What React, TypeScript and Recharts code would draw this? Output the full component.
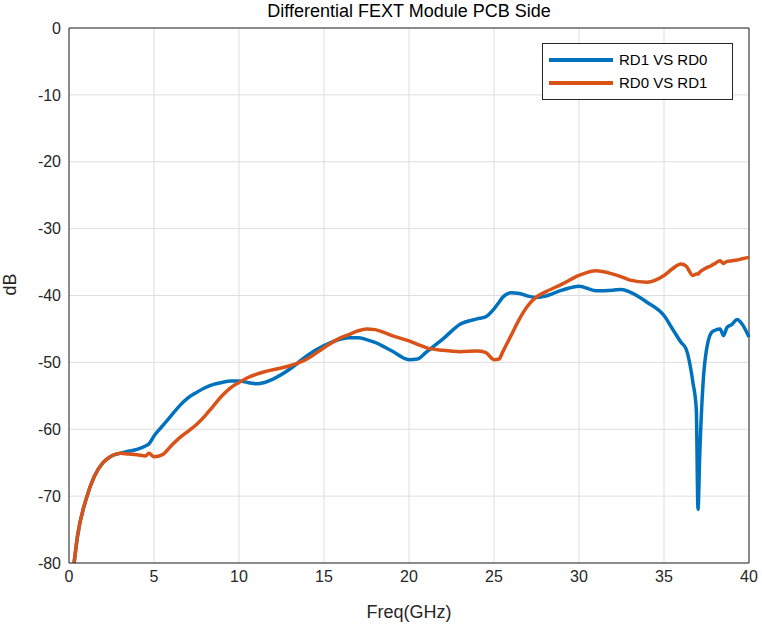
import {
  CartesianGrid,
  Line,
  LineChart,
  ReferenceLine,
  XAxis,
  YAxis,
} from 'recharts';

const freq = [
  0.3, 0.5, 1, 1.5, 2, 2.5, 3, 3.5, 4, 4.5, 4.7, 5, 5.5, 6, 6.5, 7, 7.5, 8, 8.5, 9, 9.5, 10,
  10.5, 11, 11.5, 12, 13, 14, 15, 16, 16.5, 17, 17.5, 18, 19, 20, 20.5, 21, 22, 23, 24, 24.5,
  25, 25.3, 25.5, 26, 26.5, 27, 27.5, 28, 29, 30, 31, 32, 32.5, 33, 34, 35, 35.5, 36, 36.3,
  36.7, 36.9, 37, 37.1, 37.4, 37.8, 38, 38.3, 38.5, 38.7, 39, 39.3, 39.6, 40,
];
const rd1VsRd0 = [
  -80, -76, -70.5, -67, -65, -64, -63.6, -63.3, -63, -62.5, -62.2, -61, -59.5, -58, -56.5,
  -55.3, -54.5, -53.8, -53.3, -53, -52.8, -52.8, -53, -53.2, -53, -52.5, -51, -49, -47.5,
  -46.5, -46.3, -46.3, -46.6, -47, -48.3, -49.6, -49.5, -48.5, -46.5, -44.3, -43.5, -43.2,
  -42, -41, -40.3, -39.6, -39.7, -40.1, -40.3, -40.1, -39.2, -38.6, -39.3, -39.2, -39.1,
  -39.5, -41, -43, -45, -47, -48, -53, -57, -72, -64, -50, -45.5, -45.2, -45, -46, -44.8,
  -44.3, -43.6, -44.3, -46.2,
];
const rd0VsRd1 = [
  -80, -76, -70.5, -67, -65, -64, -63.6, -63.7, -63.8, -64, -63.6, -64.1, -63.8, -62.5,
  -61.3, -60.3, -59.3, -58, -56.5, -55, -53.8, -53, -52.3, -51.8, -51.4, -51.1, -50.5,
  -49.5, -47.8, -46.3, -45.8, -45.3, -45, -45.1, -46, -46.8, -47.3, -47.8, -48.2, -48.4,
  -48.3, -48.5, -49.6, -49.5, -48.5, -46, -43.5, -41.5, -40.2, -39.5, -38.3, -37, -36.3,
  -36.8, -37.2, -37.7, -38, -37, -36, -35.3, -35.6, -37, -36.8, -36.8, -36.5, -36, -35.5,
  -35.2, -34.8, -35.2, -34.9, -34.8, -34.7, -34.5, -34.3,
];
const xTicks = [0, 5, 10, 15, 20, 25, 30, 35, 40];
const yTicks = [-80, -70, -60, -50, -40, -30, -20, -10, 0];

const data = freq.map((f, i) => ({ f, a: rd1VsRd0[i], b: rd0VsRd1[i] }));

const series = [
  { key: 'a', label: 'RD1 VS RD0', color: '#0072bd' },
  { key: 'b', label: 'RD0 VS RD1', color: '#d95319' },
];

const font = '"Liberation Sans", Arial, sans-serif';
const tick = { fill: '#262626', fontSize: 16, fontFamily: font };

function LegendBox() {
  return (
    <div
      style={{
        position: 'absolute',
        top: 43,
        left: 542,
        border: '1px solid #262626',
        background: '#fff',
        width: 191,
        height: 57,
        boxSizing: 'border-box',
        padding: '4px 0 0 6px',
        fontFamily: font,
        fontSize: 15,
        color: '#000',
        zIndex: 2,
      }}
    >
      {series.map((s) => (
        <div key={s.key} style={{ display: 'flex', alignItems: 'center', height: 23 }}>
          <span style={{ width: 64, height: 4, background: s.color, marginRight: 6 }} />
          {s.label}
        </div>
      ))}
    </div>
  );
}

export default function App() {
  return (
    <div style={{ position: 'absolute', left: 0, top: 0, width: 762, height: 630, background: '#fff' }}>
      <div
        style={{
          position: 'absolute',
          top: 1,
          left: 69,
          width: 680,
          textAlign: 'center',
          fontFamily: font,
          fontSize: 18,
          color: '#000',
        }}
      >
        Differential FEXT Module PCB Side
      </div>
      <LegendBox />
      <LineChart width={762} height={630} data={data} margin={{ top: 28, right: 13, bottom: 0, left: 0 }}>
        <CartesianGrid stroke="#dedede" />
        <XAxis
          dataKey="f"
          type="number"
          domain={[0, 40]}
          ticks={xTicks}
          height={67}
          tick={tick}
          tickLine={false}
          axisLine={{ stroke: '#262626' }}
          label={{ value: 'Freq(GHz)', position: 'insideBottom', offset: 12, fill: '#262626', fontSize: 18, fontFamily: font }}
        />
        <YAxis
          type="number"
          domain={[-80, 0]}
          ticks={yTicks}
          width={69}
          tick={tick}
          tickLine={false}
          axisLine={{ stroke: '#262626' }}
          label={{ value: 'dB', angle: -90, position: 'insideLeft', offset: 10, fill: '#262626', fontSize: 18, fontFamily: font }}
        />
        <ReferenceLine y={0} stroke="#262626" />
        <ReferenceLine x={40} stroke="#262626" />
        {series.map((s) => (
          <Line
            key={s.key}
            dataKey={s.key}
            name={s.label}
            type="monotone"
            stroke={s.color}
            strokeWidth={3.5}
            dot={false}
            isAnimationActive={false}
          />
        ))}
      </LineChart>
    </div>
  );
}
